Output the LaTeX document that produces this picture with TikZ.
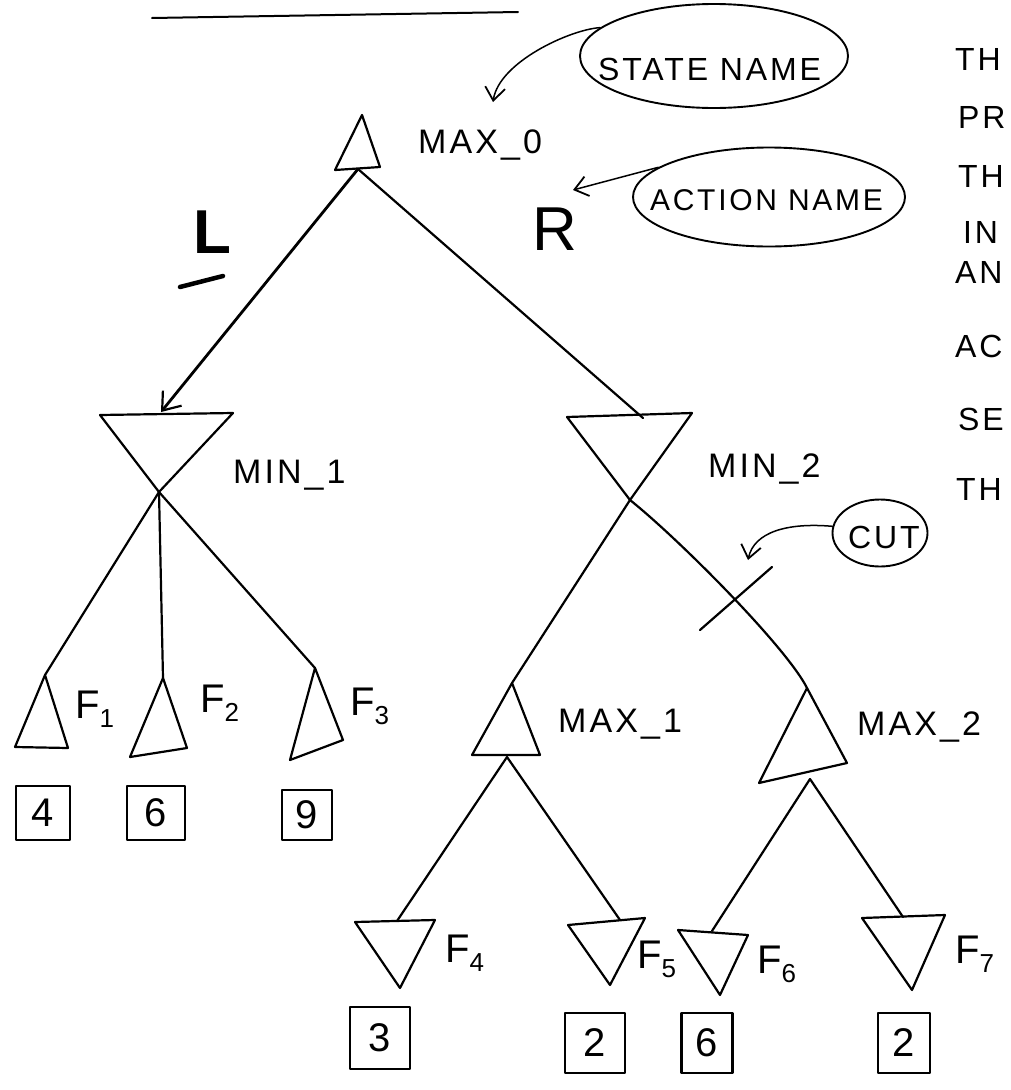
\documentclass[tikz,border=0pt]{standalone}
\usepackage{fontspec}
\setmainfont{Liberation Sans}
\newfontfamily\hand{Liberation Sans}[LetterSpace=9]
\usetikzlibrary{arrows.meta,shapes.geometric,calc}

\newcommand{\leafF}[1]{F\raisebox{-9pt}{\fontsize{26}{28}\selectfont#1}}

\begin{document}
\begin{tikzpicture}[
  x=1pt, y=-1pt,
  line join=round, line cap=round,
  tri/.style={draw, line width=2.2pt},
  edge/.style={line width=2.2pt},
  choice/.style={line width=2.8pt, -{Straight Barb[length=16pt,width=24pt,line width=2.2pt]}},
  note/.style={line width=1.5pt, -{Straight Barb[length=13pt,width=20pt,line width=1.8pt]}},
  bubble/.style={draw, ellipse, line width=1.9pt, inner sep=0pt},
  bubtext/.style={anchor=base west, inner sep=0pt, font=\hand\fontsize{32}{36}\selectfont},
  state/.style={anchor=base west, inner sep=0pt, font=\hand\fontsize{34}{38}\selectfont},
  leaf/.style={anchor=base west, inner sep=0pt, font=\hand\fontsize{40}{44}\selectfont},
  val/.style={draw, line width=2.2pt, inner sep=0pt, minimum width=54pt, minimum height=54pt,
              font=\hand\fontsize{40}{44}\selectfont},
  act/.style={anchor=base west, inner sep=0pt, font=\fontsize{62}{66}\selectfont},
  side/.style={anchor=base west, inner sep=0pt, font=\hand\fontsize{32}{36}\selectfont}
]
\useasboundingbox (0,0) rectangle (1010,1090);

% heading line
\draw[line width=2pt] (152,18) -- (518,12);

% root
\draw[tri] (362,115) coordinate (max0-top) -- (335,170) -- (380,167) -- cycle;
\coordinate (max0-bot) at (358,169);
\node[state] (max0-lbl) at (418,153) {MAX\_0};

% min level
\draw[tri] (100,415) -- (233,413) -- (159,492) coordinate (min1-bot) -- cycle;
\coordinate (min1-top) at (161,412);
\node[state] (min1-lbl) at (233,483) {MIN\_1};

\draw[tri] (567,417) -- (692,413) -- (630,500) coordinate (min2-bot) -- cycle;
\coordinate (min2-top) at (643,418);
\node[state] (min2-lbl) at (708,477) {MIN\_2};

% leaves below MIN_1
\draw[tri] (45,675) coordinate (f1-top) -- (15,747) -- (68,748) -- cycle;
\draw[tri] (163,678) coordinate (f2-top) -- (130,757) -- (187,748) -- cycle;
\draw[tri] (315,668) coordinate (f3-top) -- (290,760) -- (343,740) -- cycle;
\node[leaf] (f1-lbl) at (75,718) {\leafF{1}};
\node[leaf] (f2-lbl) at (200,712) {\leafF{2}};
\node[leaf] (f3-lbl) at (350,715) {\leafF{3}};

% max level
\draw[tri] (512,683) coordinate (max1-top) -- (472,755) -- (540,755) -- cycle;
\coordinate (max1-bot) at (507,757);
\node[state] (max1-lbl) at (558,732) {MAX\_1};

\draw[tri] (807,688) coordinate (max2-top) -- (759,783) -- (847,763) -- cycle;
\coordinate (max2-bot) at (810,779);
\node[state] (max2-lbl) at (857,735) {MAX\_2};

% leaves below MAX_1 and MAX_2
\draw[tri] (355,922) -- (435,920) -- (400,988) -- cycle;
\coordinate (f4-top) at (397,921);
\draw[tri] (568,925) -- (645,918) -- (610,985) -- cycle;
\coordinate (f5-top) at (620,920);
\draw[tri] (678,930) -- (748,935) -- (720,995) -- cycle;
\coordinate (f6-top) at (712,931);
\draw[tri] (862,918) -- (945,915) -- (912,990) -- cycle;
\coordinate (f7-top) at (903,917);
\node[leaf] (f4-lbl) at (445,962) {\leafF{4}};
\node[leaf] (f5-lbl) at (637,968) {\leafF{5}};
\node[leaf] (f6-lbl) at (757,973) {\leafF{6}};
\node[leaf] (f7-lbl) at (955,963) {\leafF{7}};

% values
\node[val] (v1) at (43,813) {4};
\node[val, minimum width=58pt] (v2) at (156,813) {6};
\node[val, minimum width=50pt, minimum height=50pt] (v3) at (307,815) {9};
\node[val, minimum width=60pt, minimum height=62pt] (v4) at (380,1038) {3};
\node[val, minimum width=60pt, minimum height=60pt] (v5) at (595,1043) {2};
\node[val, minimum width=51pt, minimum height=60pt] (v6) at (707,1043) {6};
\node[val, minimum width=52pt, minimum height=60pt] (v7) at (904,1043) {2};

% branches
\draw[choice] (max0-bot) -- (min1-top);
\draw[edge] (max0-bot) -- (min2-top);
\draw[edge] (min1-bot) -- (f1-top);
\draw[edge] (min1-bot) -- (f2-top);
\draw[edge] (min1-bot) -- (f3-top);
\draw[edge] (min2-bot) -- (max1-top);
\draw[edge] (min2-bot) .. controls +(50,40) and +(-20,-40) .. (max2-top);
\draw[edge] (max1-bot) -- (f4-top);
\draw[edge] (max1-bot) -- (f5-top);
\draw[edge] (max2-bot) -- (f6-top);
\draw[edge] (max2-bot) -- (f7-top);

% action names
\node[act, font=\bfseries\fontsize{62}{66}\selectfont] (actL) at (193,253) {L};
\draw[line width=4.5pt] (180,287) -- (223,276);
\node[act] (actR) at (532,250) {R};

% cut mark
\coordinate (cutpt) at (737,597);
\draw[edge] ($(cutpt)+(-37,33)$) -- ($(cutpt)+(35,-30)$);

% notes
\node[bubble, minimum width=268pt, minimum height=104pt] (stateE) at (714,56) {};
\node[bubtext] (stateT) at (598,80) {STATE NAME};
\coordinate (stTip) at (493,102);
\draw[note] (stateE.166) .. controls +(-30,2) and +(6,-40) .. (stTip);

\node[bubble, minimum width=272pt, minimum height=99pt] (actE) at (769,197) {};
\node[bubtext, font=\hand\fontsize{30}{34}\selectfont] (actT) at (650,210) {ACTION NAME};
\coordinate (acTip) at (573,190);
\draw[note] (actE.165) -- (acTip);

\node[bubble, minimum width=95pt, minimum height=67pt] (cutE) at (880,533) {};
\node[bubtext] (cutT) at (848,548) {CUT};
\coordinate (cutTip) at (748,560);
\draw[note] (cutE.172) .. controls +(-45,-4) and +(6,-28) .. (cutTip);

% side text
\node[side] (s1) at (955,70) {TH};
\node[side] (s2) at (958,128) {PR};
\node[side] (s3) at (958,187) {TH};
\node[side] (s4) at (963,243) {IN};
\node[side] (s5) at (955,283) {AN};
\node[side] (s6) at (955,357) {AC};
\node[side] (s7) at (958,430) {SE};
\node[side] (s8) at (956,500) {TH};
\end{tikzpicture}
\end{document}
